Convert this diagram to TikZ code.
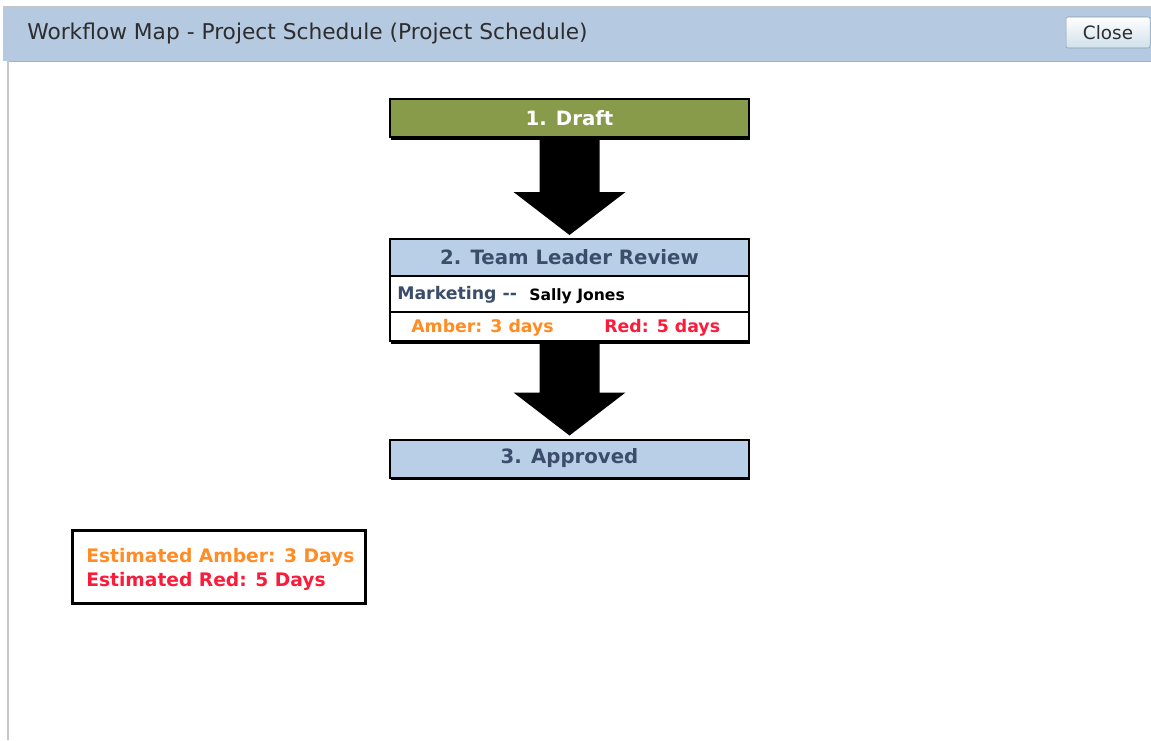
\documentclass[tikz,border=0pt]{standalone}
\usepackage{fontspec}
\setmainfont{DejaVu Sans}
\usetikzlibrary{calc}
\definecolor{barblue}{RGB}{181,201,224}
\definecolor{barline}{RGB}{160,178,200}
\definecolor{titlegray}{RGB}{45,45,45}
\definecolor{draftgreen}{RGB}{135,155,75}
\definecolor{stepblue}{RGB}{185,207,231}
\definecolor{slate}{RGB}{59,77,106}
\definecolor{amber}{RGB}{255,140,36}
\definecolor{redtxt}{RGB}{250,28,58}
\definecolor{btnborder}{RGB}{140,155,170}
\definecolor{btnbottom}{RGB}{208,224,234}
\begin{document}
\begin{tikzpicture}[x=0.75pt,y=-0.75pt,
  stepbox/.style={draw=black, line width=1.5pt, minimum width=269.25pt, inner sep=0pt, outer sep=0pt},
  steptitle/.style={font=\fontsize{14.8}{16}\selectfont\bfseries},
  rowtext/.style={font=\fontsize{13}{15}\selectfont\bfseries, inner sep=0pt, anchor=west},
  bigarrow/.style={fill=black},
  shadowline/.style={line width=1.5pt, black}
]
\useasboundingbox (0,0) rectangle (1151,740);
\fill[white] (0,0) rectangle (1151,740);
% header bar
\fill[barblue] (3,7) rectangle (1151,61);
\draw[gray!45, line width=0.75pt] (3,6.5) -- (1151,6.5);
\draw[barline, line width=0.75pt] (8,61) -- (1151,61);
\draw[gray!45, line width=1.2pt] (8,61) -- (8,740);
\node[anchor=west, inner sep=0pt, text=titlegray, font=\fontsize{16.3}{18}\selectfont] (title) at (27,33.5) {Workflow Map - Project Schedule (Project Schedule)};
\node[draw=btnborder, rounded corners=1.5pt, top color=white, bottom color=btnbottom, minimum width=63pt, minimum height=23.25pt, inner sep=0pt, text=titlegray, font=\fontsize{13.8}{15}\selectfont] (close) at (1108,32.5) {Close};

% steps
\node[stepbox, fill=draftgreen, minimum height=28.5pt, text=white, steptitle] (draft) at (569.5,118) {1. Draft};
\node[stepbox, fill=stepblue, minimum height=27.75pt, text=slate, steptitle] (review) at (569.5,257.5) {2. Team Leader Review};
\node[stepbox, fill=white, minimum height=27pt] (reviewmid) at (569.5,294) {};
\node[stepbox, fill=white, minimum height=21.75pt] (reviewlow) at (569.5,326.5) {};
\node[stepbox, fill=stepblue, minimum height=28.5pt, text=slate, steptitle] (approved) at (569.5,458.5) {3. Approved};
\draw[shadowline] ($(draft.south west)+(1,1.5)$) -- ($(draft.south east)+(1,1.5)$);
\draw[shadowline] ($(reviewlow.south west)+(1,1.5)$) -- ($(reviewlow.south east)+(1,1.5)$);
\draw[shadowline] ($(approved.south west)+(1,1.5)$) -- ($(approved.south east)+(1,1.5)$);

\node[rowtext, text=slate] (dept) at (397,295) {Marketing -{}-};
\node[rowtext, text=black, font=\fontsize{11.7}{14}\selectfont\bfseries] (person) at (529,296) {Sally Jones};
\node[rowtext, text=amber] (amberdays) at (411,328) {Amber: 3 days};
\node[rowtext, text=redtxt] (reddays) at (604,328) {Red: 5 days};

% arrows
\fill[bigarrow] ($(draft.south)+(-30,0)$) -- ($(draft.south)+(30,0)$) -- ($(review.north)+(30,-47)$) -- ($(review.north)+(56,-47)$) -- ($(review.north)+(0,-4)$) -- ($(review.north)+(-56,-47)$) -- ($(review.north)+(-30,-47)$) -- cycle;
\fill[bigarrow] ($(reviewlow.south)+(-30,0)$) -- ($(reviewlow.south)+(30,0)$) -- ($(approved.north)+(30,-47)$) -- ($(approved.north)+(56,-47)$) -- ($(approved.north)+(0,-4)$) -- ($(approved.north)+(-56,-47)$) -- ($(approved.north)+(-30,-47)$) -- cycle;

% legend
\node[draw=black, line width=2.25pt, minimum width=219.75pt, minimum height=54.75pt, inner sep=0pt] (legend) at (218.5,566.5) {};
\node[anchor=west, inner sep=0pt, text=amber, font=\fontsize{14}{16}\selectfont\bfseries] (estamber) at (86,557) {Estimated Amber: 3 Days};
\node[anchor=west, inner sep=0pt, text=redtxt, font=\fontsize{14}{16}\selectfont\bfseries] (estred) at (86,581) {Estimated Red: 5 Days};
\end{tikzpicture}
\end{document}
